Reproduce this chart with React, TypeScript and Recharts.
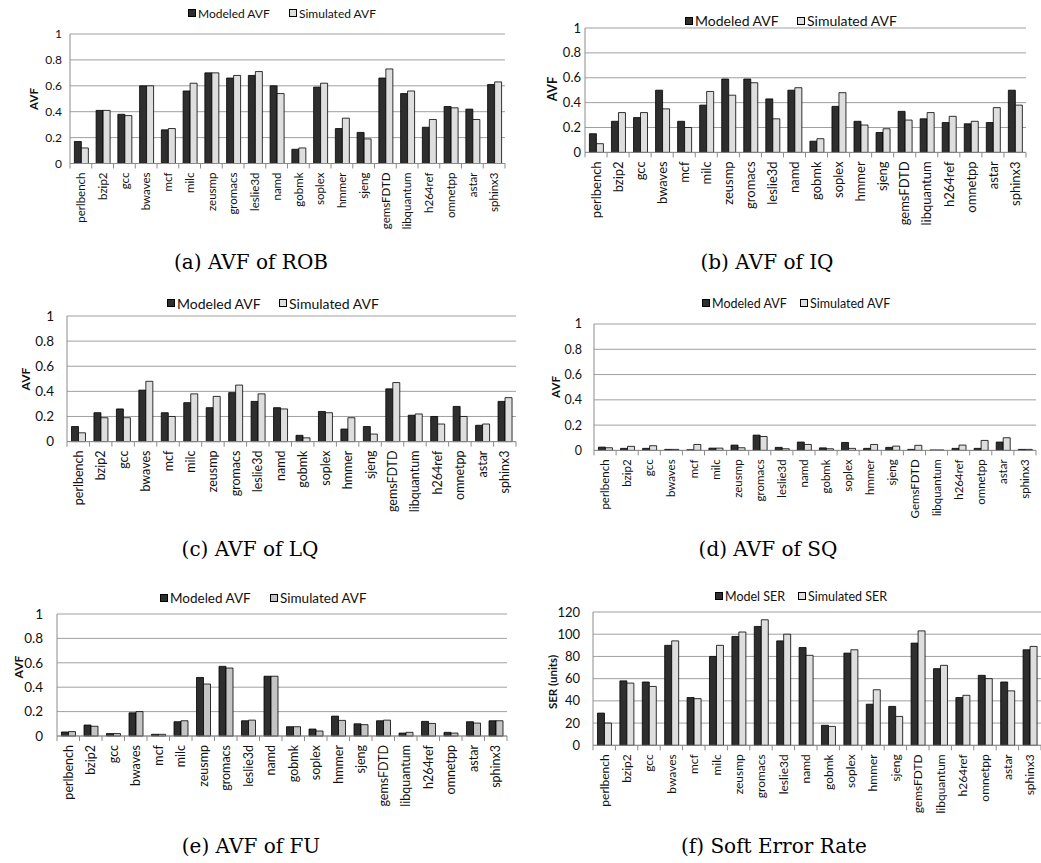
import React from "react";
import { Bar, BarChart, CartesianGrid, XAxis, YAxis } from "recharts";

const benchmarks = [
  "perlbench", "bzip2", "gcc", "bwaves", "mcf", "milc", "zeusmp", "gromacs",
  "leslie3d", "namd", "gobmk", "soplex", "hmmer", "sjeng", "gemsFDTD",
  "libquantum", "h264ref", "omnetpp", "astar", "sphinx3",
];
const benchmarksSQ = benchmarks.map((b) => (b === "gemsFDTD" ? "GemsFDTD" : b));

const robModeled = [0.17, 0.41, 0.38, 0.6, 0.26, 0.56, 0.7, 0.66, 0.68, 0.6, 0.11, 0.59, 0.27, 0.24, 0.66, 0.54, 0.28, 0.44, 0.42, 0.61];
const robSimulated = [0.12, 0.41, 0.37, 0.6, 0.27, 0.62, 0.7, 0.68, 0.71, 0.54, 0.12, 0.62, 0.35, 0.19, 0.73, 0.56, 0.34, 0.43, 0.34, 0.63];

const iqModeled = [0.15, 0.25, 0.28, 0.5, 0.25, 0.38, 0.59, 0.59, 0.43, 0.5, 0.09, 0.37, 0.25, 0.16, 0.33, 0.27, 0.24, 0.23, 0.24, 0.5];
const iqSimulated = [0.07, 0.32, 0.32, 0.35, 0.2, 0.49, 0.46, 0.56, 0.27, 0.52, 0.11, 0.48, 0.22, 0.19, 0.26, 0.32, 0.29, 0.25, 0.36, 0.38];

const lqModeled = [0.12, 0.23, 0.26, 0.41, 0.23, 0.31, 0.27, 0.39, 0.32, 0.27, 0.05, 0.24, 0.1, 0.12, 0.42, 0.21, 0.2, 0.28, 0.13, 0.32];
const lqSimulated = [0.07, 0.19, 0.19, 0.48, 0.2, 0.38, 0.36, 0.45, 0.38, 0.26, 0.03, 0.23, 0.19, 0.06, 0.47, 0.22, 0.14, 0.2, 0.14, 0.35];

const sqModeled = [0.026, 0.016, 0.016, 0.008, 0.005, 0.018, 0.042, 0.121, 0.024, 0.066, 0.02, 0.063, 0.016, 0.024, 0.008, 0.003, 0.016, 0.016, 0.066, 0.008];
const sqSimulated = [0.021, 0.032, 0.037, 0.008, 0.047, 0.018, 0.021, 0.11, 0.013, 0.047, 0.013, 0.016, 0.047, 0.034, 0.04, 0.003, 0.042, 0.079, 0.1, 0.008];

const fuModeled = [0.033, 0.09, 0.02, 0.19, 0.014, 0.117, 0.48, 0.571, 0.125, 0.49, 0.076, 0.057, 0.163, 0.1, 0.125, 0.024, 0.12, 0.03, 0.117, 0.125];
const fuSimulated = [0.036, 0.08, 0.02, 0.2, 0.014, 0.125, 0.426, 0.557, 0.13, 0.49, 0.076, 0.041, 0.128, 0.093, 0.13, 0.03, 0.103, 0.024, 0.106, 0.125];

const serModel = [29, 58, 57, 90, 43, 80, 98, 107, 94, 88, 18, 83, 37, 35, 92, 69, 43, 63, 57, 86];
const serSimulated = [20, 56, 53, 94, 42, 90, 102, 113, 100, 81, 17, 86, 50, 26, 103, 72, 45, 60, 49, 89];

const avfTicks = [0, 0.2, 0.4, 0.6, 0.8, 1];
const serTicks = [0, 20, 40, 60, 80, 100, 120];

const darkFill = "#2e2e2e";
const lightFill = "#dedede";
const gridColor = "#a0a0a0";
const axisColor = "#8c8c8c";

const CategoryTick = (props: any) => {
  const { x, y, payload, step, fontSize, last } = props;
  return (
    <g transform={`translate(${x},${y})`}>
      <line x1={-step / 2} x2={-step / 2} y1={0} y2={5} stroke={axisColor} />
      {payload.value === last && (
        <line x1={step / 2} x2={step / 2} y1={0} y2={5} stroke={axisColor} />
      )}
      <text
        transform="rotate(-90)"
        x={-9}
        y={0}
        dy="0.36em"
        textAnchor="end"
        fontSize={fontSize}
        fill="#111"
      >
        {payload.value}
      </text>
    </g>
  );
};

type PanelProps = {
  categories: string[];
  modeled: number[];
  simulated: number[];
  names: [string, string];
  box: { left: number; right: number; top: number; bottom: number };
  yMax: number;
  yTicks: number[];
  tickFont: number;
  tickGap: number;
  catFont: number;
  simFill?: string;
  yLabel: string;
  yLabelAt: [number, number];
  yLabelFont: number;
  legendAt: [number, number];
  legendY: number;
  legendFont: number;
  caption: string;
  captionAt: [number, number];
};

const Panel = (p: PanelProps) => {
  const data = p.categories.map((name, i) => ({
    name,
    modeled: p.modeled[i],
    simulated: p.simulated[i],
  }));
  const leftPad = 60;
  const topPad = 10;
  const xAxisH = 85;
  const plotW = p.box.right - p.box.left;
  const step = plotW / p.categories.length;
  const last = p.categories[p.categories.length - 1];
  const fill2 = p.simFill ?? lightFill;

  return (
    <>
      <div style={{ position: "absolute", left: p.box.left - leftPad, top: p.box.top - topPad }}>
        <BarChart
          width={plotW + leftPad + 2}
          height={p.box.bottom - p.box.top + topPad + xAxisH}
          data={data}
          margin={{ top: topPad, right: 2, bottom: 0, left: 0 }}
          barCategoryGap="20%"
          barGap={0}
        >
          <CartesianGrid vertical={false} stroke={gridColor} />
          <XAxis
            dataKey="name"
            interval={0}
            height={xAxisH}
            tickSize={0}
            tickMargin={0}
            tickLine={false}
            axisLine={{ stroke: axisColor }}
            tick={(t: any) => (
              <CategoryTick {...t} step={step} last={last} fontSize={p.catFont} />
            )}
          />
          <YAxis
            width={leftPad}
            domain={[0, p.yMax]}
            ticks={p.yTicks}
            interval={0}
            tickSize={0}
            tickMargin={p.tickGap}
            tickLine={false}
            axisLine={{ stroke: axisColor }}
            tick={{ fontSize: p.tickFont, fill: "#111" }}
          />
          <Bar dataKey="modeled" fill={darkFill} stroke="#000" strokeWidth={0.8} isAnimationActive={false} />
          <Bar dataKey="simulated" fill={fill2} stroke="#000" strokeWidth={0.8} isAnimationActive={false} />
        </BarChart>
      </div>

      {[0, 1].map((k) => (
        <div
          key={k}
          style={{
            position: "absolute",
            left: p.legendAt[k],
            top: p.legendY - 10,
            height: 20,
            display: "flex",
            alignItems: "center",
            fontSize: p.legendFont,
            color: "#111",
            whiteSpace: "nowrap",
          }}
        >
          <span
            style={{
              boxSizing: "border-box",
              flexShrink: 0,
              width: 8,
              height: 8,
              border: "1px solid #000",
              background: k === 0 ? darkFill : fill2,
              marginRight: 2,
            }}
          />
          {p.names[k]}
        </div>
      ))}

      <div
        style={{
          position: "absolute",
          left: p.yLabelAt[0],
          top: p.yLabelAt[1],
          transform: "translate(-50%, -50%) rotate(-90deg)",
          fontWeight: 700,
          fontSize: p.yLabelFont,
          whiteSpace: "nowrap",
          color: "#111",
        }}
      >
        {p.yLabel}
      </div>

      <div
        style={{
          position: "absolute",
          left: p.captionAt[0],
          top: p.captionAt[1],
          transform: "translate(-50%, -50%)",
          fontFamily: "'DejaVu Serif', serif",
          fontSize: 20,
          whiteSpace: "nowrap",
          color: "#000",
        }}
      >
        {p.caption}
      </div>
    </>
  );
};

const App = () => (
  <div
    style={{
      position: "relative",
      width: 1041,
      height: 863,
      overflow: "hidden",
      background: "#fff",
      fontFamily: "Lato, 'Open Sans', sans-serif",
    }}
  >
    <style>{"body{margin:0}"}</style>

    <Panel
      categories={benchmarks}
      modeled={robModeled}
      simulated={robSimulated}
      names={["Modeled AVF", "Simulated AVF"]}
      box={{ left: 70, right: 505, top: 33.5, bottom: 163 }}
      yMax={1}
      yTicks={avfTicks}
      tickFont={12}
      tickGap={8}
      catFont={11.5}
      yLabel="AVF"
      yLabelAt={[33, 99]}
      yLabelFont={11.5}
      legendAt={[188, 289]}
      legendY={13}
      legendFont={12}
      caption="(a) AVF of ROB"
      captionAt={[251, 262]}
    />

    <Panel
      categories={benchmarks}
      modeled={iqModeled}
      simulated={iqSimulated}
      names={["Modeled AVF", "Simulated AVF"]}
      box={{ left: 585, right: 1026, top: 28.3, bottom: 152.7 }}
      yMax={1}
      yTicks={avfTicks}
      tickFont={13}
      tickGap={4}
      catFont={13}
      yLabel="AVF"
      yLabelAt={[552, 89]}
      yLabelFont={13}
      legendAt={[685, 797]}
      legendY={20.5}
      legendFont={14}
      caption="(b) AVF of IQ"
      captionAt={[767, 262]}
    />

    <Panel
      categories={benchmarks}
      modeled={lqModeled}
      simulated={lqSimulated}
      names={["Modeled AVF", "Simulated AVF"]}
      box={{ left: 67, right: 516, top: 315.7, bottom: 441.3 }}
      yMax={1}
      yTicks={avfTicks}
      tickFont={13.5}
      tickGap={13}
      catFont={12.5}
      yLabel="AVF"
      yLabelAt={[25, 379]}
      yLabelFont={12}
      legendAt={[167, 279]}
      legendY={303}
      legendFont={14}
      caption="(c) AVF of LQ"
      captionAt={[250, 549]}
    />

    <Panel
      categories={benchmarksSQ}
      modeled={sqModeled}
      simulated={sqSimulated}
      names={["Modeled AVF", "Simulated AVF"]}
      box={{ left: 594, right: 1036, top: 324.3, bottom: 450.7 }}
      yMax={1}
      yTicks={avfTicks}
      tickFont={12.5}
      tickGap={12}
      catFont={11.5}
      yLabel="AVF"
      yLabelAt={[555, 387]}
      yLabelFont={11.5}
      legendAt={[702, 800]}
      legendY={303}
      legendFont={12.5}
      caption="(d) AVF of SQ"
      captionAt={[768, 549]}
    />

    <Panel
      categories={benchmarks}
      modeled={fuModeled}
      simulated={fuSimulated}
      names={["Modeled AVF", "Simulated AVF"]}
      box={{ left: 57, right: 507, top: 614.3, bottom: 736.3 }}
      yMax={1}
      yTicks={avfTicks}
      tickFont={13.5}
      tickGap={14}
      catFont={12.5}
      simFill="#c4c4c4"
      yLabel="AVF"
      yLabelAt={[18, 667]}
      yLabelFont={12}
      legendAt={[160, 270]}
      legendY={598}
      legendFont={13.5}
      caption="(e) AVF of FU"
      captionAt={[251, 846]}
    />

    <Panel
      categories={benchmarks}
      modeled={serModel}
      simulated={serSimulated}
      names={["Model SER", "Simulated SER"]}
      box={{ left: 593, right: 1041, top: 611.7, bottom: 745 }}
      yMax={120}
      yTicks={serTicks}
      tickFont={13}
      tickGap={13}
      catFont={12}
      yLabel="SER (units)"
      yLabelAt={[552, 682]}
      yLabelFont={11.5}
      legendAt={[715, 798]}
      legendY={596}
      legendFont={12.5}
      caption="(f) Soft Error Rate"
      captionAt={[774, 846]}
    />
  </div>
);

export default App;
